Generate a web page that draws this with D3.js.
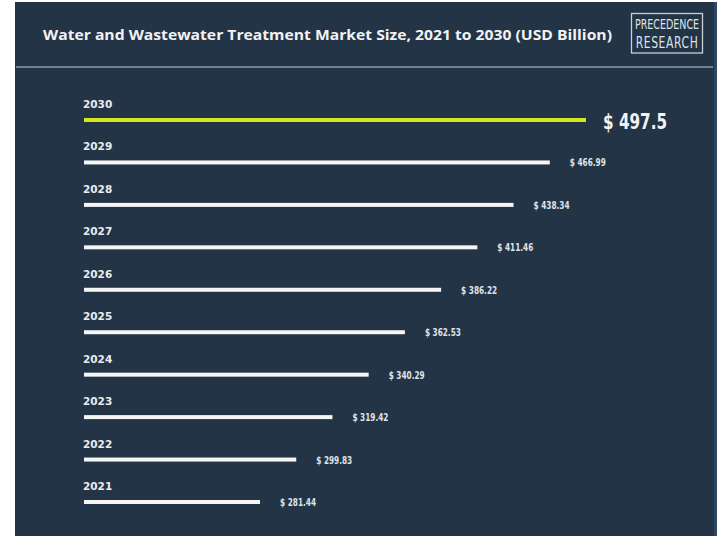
<!DOCTYPE html>
<html>
<head>
<meta charset="utf-8">
<script src="https://cdn.jsdelivr.net/npm/d3@7/dist/d3.min.js"></script>
<style>
  html, body { margin: 0; padding: 0; background: #ffffff; }
  svg { display: block; }
</style>
</head>
<body>
<svg id="chart" width="717" height="536"></svg>
<script>
// ---- data ----
const years = ["2030", "2029", "2028", "2027", "2026", "2025", "2024", "2023", "2022", "2021"];
const values = [497.5, 466.99, 438.34, 411.46, 386.22, 362.53, 340.29, 319.42, 299.83, 281.44];
const valueLabels = ["$ 497.5", "$ 466.99", "$ 438.34", "$ 411.46", "$ 386.22", "$ 362.53", "$ 340.29", "$ 319.42", "$ 299.83", "$ 281.44"];
const title = "Water and Wastewater Treatment Market Size, 2021 to 2030 (USD Billion)";
const logoLines = ["PRECEDENCE", "RESEARCH"];

const svg = d3.select("#chart");
const W = 717, H = 536;

// panel
svg.append("rect").attr("x", 0).attr("y", 0).attr("width", W).attr("height", H).attr("fill", "#ffffff");
svg.append("rect").attr("x", 15).attr("y", 2).attr("width", 699).attr("height", H - 2).attr("fill", "#243447");
svg.append("rect").attr("x", 714).attr("y", 2).attr("width", 3).attr("height", H - 2).attr("fill", "#2e4766");

// title
svg.append("text")
  .attr("x", 43).attr("y", 40)
  .attr("fill", "#f2f2f2")
  .attr("font-family", "'Open Sans', 'DejaVu Sans', sans-serif")
  .attr("font-weight", 700)
  .attr("font-size", 13.5)
  .attr("textLength", 569).attr("lengthAdjust", "spacingAndGlyphs")
  .text(title);

// separator
svg.append("line").attr("x1", 16).attr("x2", 713).attr("y1", 67).attr("y2", 67)
  .attr("stroke", "#8c98a3").attr("stroke-width", 1.5);

// logo
svg.append("rect").attr("x", 631.5).attr("y", 13.5).attr("width", 71).attr("height", 39.5)
  .attr("fill", "none").attr("stroke", "#c9d0d6").attr("stroke-width", 1.3);
logoLines.forEach((s, i) => {
  svg.append("text")
    .attr("transform", `translate(667,${29 + i * 19}) scale(1,1.35)`)
    .attr("text-anchor", "middle")
    .attr("fill", "#dde2e6")
    .attr("font-family", "'Liberation Sans Narrow', 'DejaVu Sans Condensed', sans-serif")
    .attr("font-weight", 400)
    .attr("font-size", i === 0 ? 10.6 : 12)
    .attr("letter-spacing", i === 0 ? 0 : 0.6)
    .text(s);
});

// scales
const y = d3.scalePoint().domain(years).range([120, 502]);
const x = d3.scaleLog().domain([d3.min(values), d3.max(values)]).range([260, 586]);
const x0 = 84;

const rows = years.map((yr, i) => ({ yr, v: values[i], label: valueLabels[i], top: i === 0 }));

const g = svg.append("g");
// bars
g.selectAll("rect.bar").data(rows).join("rect")
  .attr("class", "bar")
  .attr("x", x0)
  .attr("y", d => y(d.yr) - 2)
  .attr("width", d => x(d.v) - x0)
  .attr("height", 4)
  .attr("fill", d => d.top ? "#d5e61c" : "#f5f5f5");

// year labels
g.selectAll("text.yr").data(rows).join("text")
  .attr("class", "yr")
  .attr("x", 83)
  .attr("y", d => y(d.yr) - 12)
  .attr("fill", "#e9ecef")
  .attr("font-family", "'DejaVu Sans', sans-serif")
  .attr("font-weight", 700)
  .attr("font-size", 10.5)
  .text(d => d.yr);

// value labels
g.selectAll("text.val").data(rows).join("text")
  .attr("class", "val")
  .attr("x", d => x(d.v) + (d.top ? 17 : 20))
  .attr("y", d => y(d.yr) + (d.top ? 9 : 4))
  .attr("fill", d => d.top ? "#f2f2f2" : "#dfe3e6")
  .attr("font-family", "'Liberation Sans Narrow', 'DejaVu Sans Condensed', sans-serif")
  .attr("font-weight", 700)
  .attr("font-size", d => d.top ? 22 : 10.5)
  .attr("textLength", d => d.top ? 64 : 36)
  .attr("lengthAdjust", "spacingAndGlyphs")
  .text(d => d.label);
</script>
</body>
</html>
